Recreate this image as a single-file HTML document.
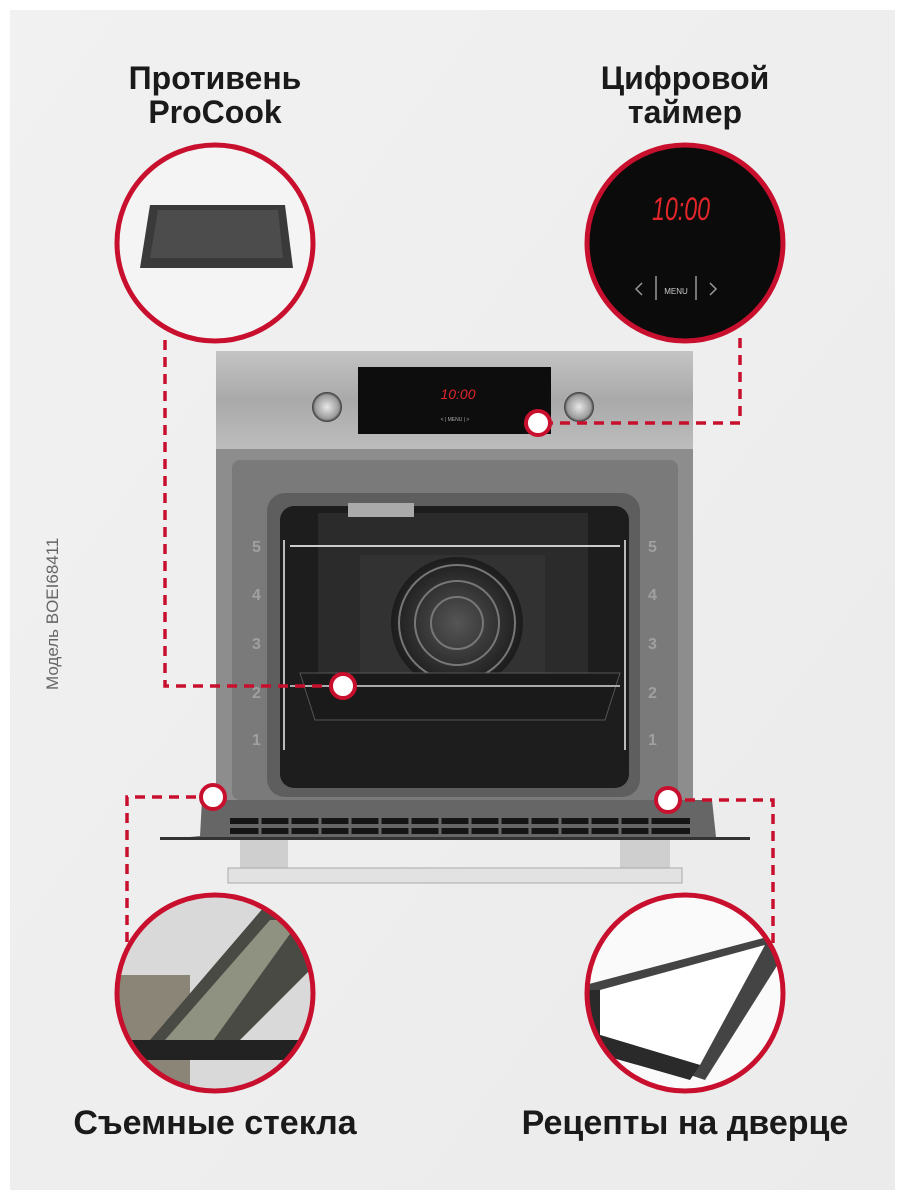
<!DOCTYPE html>
<html><head><meta charset="utf-8"><style>
html,body{margin:0;padding:0}
body{width:905px;height:1200px;background:#fff;position:relative;overflow:hidden;font-family:"Liberation Sans","DejaVu Sans",sans-serif}
.t{position:absolute;font-weight:bold;color:#1a1a1a;text-align:center;width:400px;line-height:34px}
</style></head><body>
<svg width="905" height="1200" style="position:absolute;left:0;top:0">
<defs>
<linearGradient id="bg" x1="0" y1="0" x2="1" y2="1"><stop offset="0" stop-color="#f1f1f1"/><stop offset="1" stop-color="#ebebeb"/></linearGradient>
<linearGradient id="steel" x1="0" y1="0" x2="0" y2="1"><stop offset="0" stop-color="#c4c4c4"/><stop offset="0.5" stop-color="#a9a9a9"/><stop offset="1" stop-color="#bdbdbd"/></linearGradient>
<radialGradient id="knob"><stop offset="0" stop-color="#e8e8e8"/><stop offset="0.8" stop-color="#9a9a9a"/><stop offset="1" stop-color="#333"/></radialGradient>
<radialGradient id="fan"><stop offset="0" stop-color="#555"/><stop offset="1" stop-color="#1c1c1c"/></radialGradient>
<clipPath id="c3"><circle cx="215" cy="993" r="97"/></clipPath>
<clipPath id="c4"><circle cx="685" cy="993" r="97"/></clipPath>
</defs>
<rect x="10" y="10" width="885" height="1180" fill="url(#bg)"/>
<rect x="216" y="351" width="477" height="98" fill="url(#steel)"/>
<rect x="358" y="367" width="193" height="67" fill="#0d0d0d"/>
<text x="458" y="399" fill="#e0262b" font-size="14" text-anchor="middle" font-style="italic">10:00</text>
<text x="455" y="421" fill="#aaa" font-size="5" text-anchor="middle">&lt;   |  MENU  |   &gt;</text>
<circle cx="327" cy="407" r="15" fill="url(#knob)"/>
<circle cx="579" cy="407" r="15" fill="url(#knob)"/>
<rect x="290" y="449" width="330" height="6" fill="#222"/>
<rect x="216" y="449" width="477" height="355" fill="#8d8d8d"/>
<rect x="232" y="460" width="446" height="340" rx="8" fill="#7a7a7a"/>
<rect x="267" y="493" width="373" height="304" rx="18" fill="#5e5e5e"/>
<rect x="280" y="506" width="349" height="282" rx="14" fill="#1d1d1d"/>
<rect x="318" y="513" width="270" height="200" fill="#2b2b2b"/>
<rect x="360" y="555" width="185" height="160" fill="#323232"/>
<circle cx="457" cy="623" r="66" fill="url(#fan)"/>
<g stroke="#777" fill="none" stroke-width="2"><circle cx="457" cy="623" r="58"/><circle cx="457" cy="623" r="42"/><circle cx="457" cy="623" r="26"/></g>
<rect x="348" y="503" width="66" height="14" fill="#aaa"/>
<line x1="290" y1="546" x2="620" y2="546" stroke="#ccc" stroke-width="2"/>
<g stroke="#bbb" stroke-width="2"><line x1="284" y1="540" x2="284" y2="750"/><line x1="625" y1="540" x2="625" y2="750"/></g>
<path d="M300 673 L620 673 L605 720 L315 720 Z" fill="#1a1a1a" stroke="#555"/>
<line x1="290" y1="686" x2="620" y2="686" stroke="#aaa" stroke-width="2"/>
<g fill="#a0a0a0" font-size="16" font-weight="bold"><text x="252" y="552">5</text><text x="252" y="600">4</text><text x="252" y="649">3</text><text x="252" y="698">2</text><text x="252" y="745">1</text><text x="648" y="552">5</text><text x="648" y="600">4</text><text x="648" y="649">3</text><text x="648" y="698">2</text><text x="648" y="745">1</text></g>
<path d="M202 800 L712 800 L716 837 L750 840 L160 840 L200 836 Z" fill="#666"/>
<g fill="#151515"><rect x="230" y="818" width="460" height="6"/><rect x="230" y="828" width="460" height="6"/></g>
<g stroke="#666" stroke-width="3">
<line x1="260" y1="816" x2="260" y2="836"/><line x1="290" y1="816" x2="290" y2="836"/><line x1="320" y1="816" x2="320" y2="836"/><line x1="350" y1="816" x2="350" y2="836"/><line x1="380" y1="816" x2="380" y2="836"/><line x1="410" y1="816" x2="410" y2="836"/><line x1="440" y1="816" x2="440" y2="836"/><line x1="470" y1="816" x2="470" y2="836"/><line x1="500" y1="816" x2="500" y2="836"/><line x1="530" y1="816" x2="530" y2="836"/><line x1="560" y1="816" x2="560" y2="836"/><line x1="590" y1="816" x2="590" y2="836"/><line x1="620" y1="816" x2="620" y2="836"/><line x1="650" y1="816" x2="650" y2="836"/></g>
<rect x="160" y="837" width="590" height="3" fill="#333"/>
<rect x="240" y="840" width="48" height="28" fill="#cfcfcf"/>
<rect x="620" y="840" width="50" height="28" fill="#cfcfcf"/>
<rect x="228" y="868" width="454" height="15" fill="#e2e2e2" stroke="#aaa"/>
<g stroke="#c8102e" stroke-width="3.5" fill="none" stroke-dasharray="10 7">
<polyline points="165,340 165,686 343,686"/>
<polyline points="740,338 740,423 538,423"/>
<polyline points="213,797 127,797 127,950"/>
<polyline points="668,800 773,800 773,950"/>
</g>
<g fill="#fff" stroke="#c8102e" stroke-width="4">
<circle cx="538" cy="423" r="12"/><circle cx="343" cy="686" r="12"/><circle cx="213" cy="797" r="12"/><circle cx="668" cy="800" r="12"/>
</g>
<circle cx="215" cy="243" r="97" fill="#f4f4f4"/>
<path d="M150 205 L285 205 L293 268 L140 268 Z" fill="#3a3a3a"/>
<path d="M158 210 L278 210 L283 258 L150 258 Z" fill="#4c4c4c"/>
<circle cx="685" cy="243" r="97" fill="#0b0b0b"/>
<text x="681" y="220" fill="#e4262b" font-size="32" text-anchor="middle" font-style="italic" textLength="58" lengthAdjust="spacingAndGlyphs">10:00</text>
<text x="676" y="294" fill="#ccc" font-size="8" text-anchor="middle">MENU</text>
<g stroke="#999" stroke-width="1.5" fill="none"><polyline points="642,283 636,289 642,295"/><polyline points="710,283 716,289 710,295"/><line x1="656" y1="276" x2="656" y2="300"/><line x1="696" y1="276" x2="696" y2="300"/></g>
<g clip-path="url(#c3)">
<rect x="110" y="890" width="210" height="210" fill="#d9d9d9"/>
<rect x="110" y="975" width="80" height="120" fill="#8a8577"/>
<path d="M150 1040 L270 900 L320 900 L320 960 L220 1060 Z" fill="#4a4a44"/>
<path d="M165 1040 L270 920 L300 920 L210 1045 Z" fill="#8f9280"/>
<rect x="130" y="1040" width="190" height="20" fill="#222"/>
</g>
<g clip-path="url(#c4)">
<rect x="580" y="890" width="210" height="210" fill="#fafafa"/>
<path d="M585 985 L775 935 L790 945 L705 1080 L585 1040 Z" fill="#444"/>
<path d="M600 990 L765 945 L700 1065 L600 1035 Z" fill="#fff"/>
<path d="M585 990 L600 990 L600 1035 L700 1065 L690 1080 L585 1050 Z" fill="#2a2a2a"/>
</g>
<g fill="none" stroke="#c8102e" stroke-width="5">
<circle cx="215" cy="243" r="98"/><circle cx="685" cy="243" r="98"/><circle cx="215" cy="993" r="98"/><circle cx="685" cy="993" r="98"/>
</g>
<text transform="translate(58,690) rotate(-90)" fill="#666" font-size="17">Модель BOEI68411</text>
</svg>
<div class="t" style="left:15px;top:61px;font-size:32px">Противень<br>ProCook</div>
<div class="t" style="left:485px;top:61px;font-size:32px">Цифровой<br>таймер</div>
<div class="t" style="left:15px;top:1106px;font-size:34px">Съемные стекла</div>
<div class="t" style="left:485px;top:1106px;font-size:34px">Рецепты на дверце</div>
</body></html>
